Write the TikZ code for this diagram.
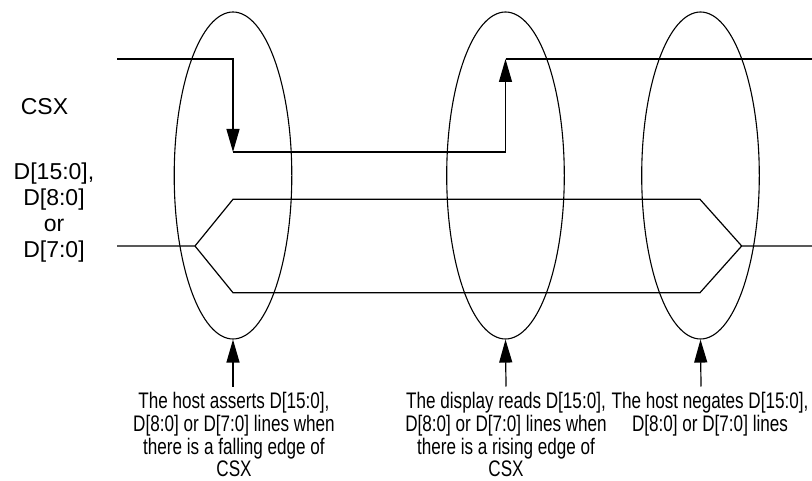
\documentclass[tikz,border=0pt]{standalone}
\usepackage{fontspec}
\setmainfont{Liberation Sans}
\newfontfamily\condfont{Liberation Sans}[FakeStretch=0.76]
\usetikzlibrary{arrows.meta,shapes.geometric}
\tikzset{
  sig/.style={line width=1.2pt, line join=miter},
  tri/.style={-{Triangle[length=23pt,width=13pt]}},
  ring/.style={draw, ellipse, line width=1.1pt, minimum width=117.6pt, minimum height=327pt, inner sep=0pt},
  note/.style={align=center, inner sep=0pt, anchor=north, font=\condfont\fontsize{22.5}{22.8}\selectfont},
  label/.style={align=center, inner sep=0pt, font=\fontsize{23}{26}\selectfont},
}
\begin{document}
\begin{tikzpicture}[x=1pt,y=-1pt]
\useasboundingbox (0,0) rectangle (812,481);
% ellipses
\node[ring] (e1) at (233,175.5) {};
\node[ring] (e2) at (505.5,175.5) {};
\node[ring] (e3) at (700.5,175.5) {};
% CSX signal
\coordinate (c0) at (117,59);
\coordinate (c1) at (233,152);
\coordinate (c2) at (505.5,152);
\coordinate (c3) at (505.5,59);
\coordinate (c4) at (812,59);
\draw[sig,tri] (c0) -| (c1);
\draw[sig] (c1) -- (c2);
\draw[sig,tri] (c2) -- (c3);
\draw[sig] (c3) -- (c4);
% data bus
\coordinate (d0) at (117,246);
\coordinate (d1) at (195,246);
\coordinate (du1) at (233,199.3);
\coordinate (dl1) at (233,292.7);
\coordinate (du2) at (700,199.3);
\coordinate (dl2) at (700,292.7);
\coordinate (d2) at (741.7,246);
\coordinate (d3) at (812,246);
\draw[sig] (d0) -- (d1) -- (du1) -- (du2) -- (d2) -- (d3);
\draw[sig] (d1) -- (dl1) -- (dl2) -- (d2);
% left labels
\node[label] (lcsx) at (44.5,107) {CSX};
\node[label, anchor=north] (ldata) at (54,162.5) {D[15:0],\\D[8:0]\\or\\D[7:0]};
% bottom notes
\coordinate (a1) at (233,386.5);
\coordinate (a2) at (506,386.5);
\coordinate (a3) at (701,386.5);
\draw[sig,tri] (a1) -- (e1.south);
\draw[sig,tri] (a2) -- (e2.south);
\draw[sig,tri] (a3) -- (e3.south);
\node[note] (n1) at (234,392) {The host asserts D[15:0],\\D[8:0] or D[7:0] lines when\\there is a falling edge of\\CSX};
\node[note] (n2) at (506,392) {The display reads D[15:0],\\D[8:0] or D[7:0] lines when\\there is a rising edge of\\CSX};
\node[note] (n3) at (710,392) {The host negates D[15:0],\\D[8:0] or D[7:0] lines};
\end{tikzpicture}
\end{document}
